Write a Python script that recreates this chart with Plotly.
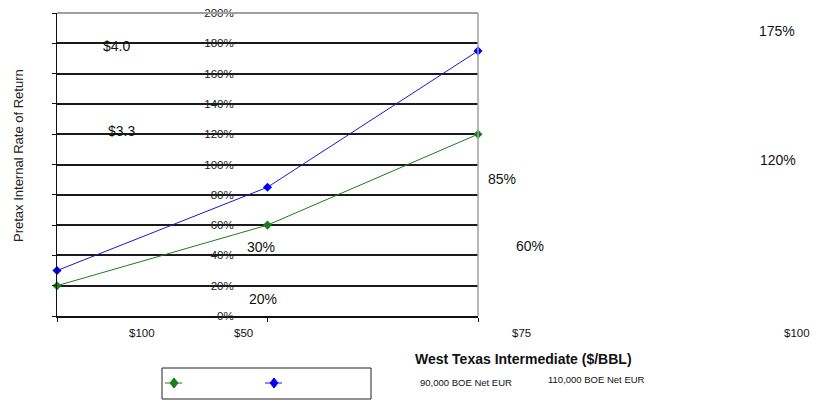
import plotly.graph_objects as go

# WTI price scenarios and pretax IRR for two reserve cases
wti = [50, 75, 100]
irr_90k = [20, 60, 120]
irr_110k = [30, 85, 175]
series_names = ["90,000 BOE Net EUR", "110,000 BOE Net EUR"]
gas_labels = ["$4.0", "$3.3"]
x_tick_labels = ["$100", "$50", "$75", "$100"]
y_ticks = list(range(0, 201, 20))
y_tick_text = [f"{v}%" for v in y_ticks]

W, H = 826, 401
L, R, T, B = 57, 478, 13, 316


def px(x):
    return (x - L) / (R - L)


def py(y):
    return (B - y) / (B - T)


FONT = "Liberation Sans, Arial, sans-serif"
GREEN = "#1a7d1a"
BLUE = "#1818c8"
MARK_BLUE = "#0000ff"
colors = [GREEN, BLUE]
mark_colors = [GREEN, MARK_BLUE]

fig = go.Figure()
for name, vals, c, mc in zip(series_names, [irr_90k, irr_110k], colors, mark_colors):
    fig.add_trace(go.Scatter(
        x=wti, y=vals, name=name, mode="lines+markers",
        line=dict(color=c, width=1),
        marker=dict(symbol="diamond", size=7, color=mc),
        cliponaxis=False, showlegend=False,
    ))


def label(x, y, text, size, color="#111", **kw):
    return dict(x=px(x), y=py(y), xref="paper", yref="paper", text=text,
                showarrow=False, xanchor="center", yanchor="middle",
                font=dict(size=size, color=color, family=FONT), **kw)


ann = []
# value labels for each scenario point
label_pos_110k = [(261, 247), (502, 179), (777, 31)]
label_pos_90k = [(263, 299), (530, 246), (778, 160)]
for vals, pos in ((irr_110k, label_pos_110k), (irr_90k, label_pos_90k)):
    for v, (x, y) in zip(vals, pos):
        ann.append(label(x, y, f"{v}%", 14))
for t, (x, y) in zip(gas_labels, [(116, 46), (121, 131)]):
    ann.append(label(x, y, t, 14))
for t, x in zip(x_tick_labels, [142, 243, 521, 797]):
    ann.append(label(x, 333, t, 11.5))
for t, (x, y) in zip(series_names, [(466, 383), (596, 380)]):
    ann.append(label(x, y, t, 9.5))
ann.append(label(523, 359, "<b>West Texas Intermediate ($/BBL)</b>", 14))
ann.append(label(18, 156, "Pretax Internal Rate of Return", 13, "#222",
                 textangle=-90))

shapes = [
    dict(type="line", xref="paper", yref="paper", x0=0, x1=1, y0=1, y1=1,
         line=dict(color="#a0a0a0", width=2), layer="above"),
    dict(type="line", xref="paper", yref="paper", x0=1, x1=1, y0=0, y1=1,
         line=dict(color="#a0a0a0", width=1.5), layer="above"),
    # legend frame
    dict(type="rect", xref="paper", yref="paper",
         x0=px(162), x1=px(371), y0=py(399), y1=py(368),
         line=dict(color="#222", width=1), fillcolor="white"),
]
# legend keys: short line with a diamond marker
for kx, mc, c in zip([174, 274], mark_colors, colors):
    shapes.append(dict(type="line", xref="paper", yref="paper",
                       x0=px(kx - 9), x1=px(kx + 8), y0=py(383), y1=py(383),
                       line=dict(color=c, width=1)))
    shapes.append(dict(type="path", xref="paper", yref="paper",
                       xsizemode="pixel", ysizemode="pixel",
                       xanchor=px(kx), yanchor=py(383),
                       path="M 0 5 L 4 0 L 0 -5 L -4 0 Z",
                       fillcolor=mc, line=dict(color=mc, width=1)))

fig.update_layout(
    width=W, height=H,
    margin=dict(l=L, r=W - R, t=T, b=H - B, autoexpand=False),
    paper_bgcolor="white", plot_bgcolor="white",
    font=dict(family=FONT, color="#111"),
    annotations=ann, shapes=shapes,
    showlegend=False,
    xaxis=dict(
        range=[50, 100], tickvals=wti, showticklabels=False,
        ticks="outside", ticklen=4, tickcolor="#111",
        showgrid=False, zeroline=False,
        showline=True, linecolor="#111", linewidth=2,
    ),
    yaxis=dict(
        range=[0, 200], tickvals=y_ticks, ticktext=y_tick_text,
        ticks="outside", ticklen=4, tickcolor="#111",
        showgrid=True, gridcolor="#1a1a1a", gridwidth=2,
        zeroline=False, showline=True, linecolor="#111", linewidth=1,
        tickfont=dict(size=11.5, color="#222", family=FONT),
        ticklabelstandoff=-184,
    ),
)

fig.write_html("out.html")
